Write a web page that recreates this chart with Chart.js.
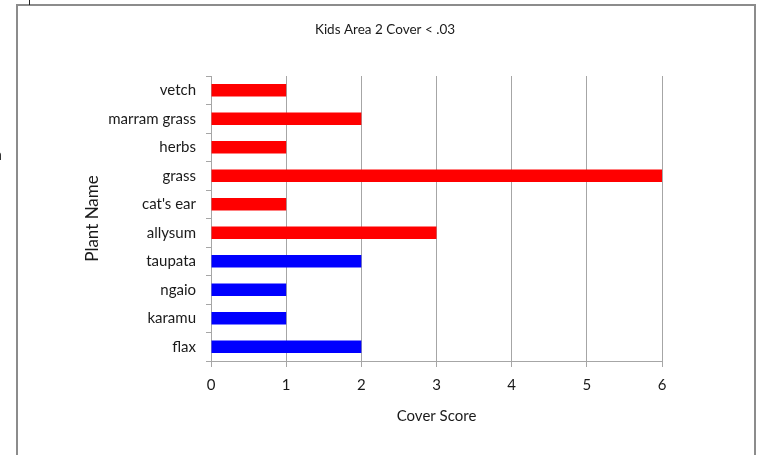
<!DOCTYPE html>
<html>
<head>
<meta charset="utf-8">
<script src="https://cdn.jsdelivr.net/npm/chart.js@4.4.1/dist/chart.umd.min.js"></script>
<style>
  html, body { margin: 0; padding: 0; background: #fff; }
  #wrap { position: absolute; left: 0; top: 0; width: 759px; height: 455px; }
</style>
</head>
<body>
<div id="wrap"><canvas id="coverChart" width="759" height="455"></canvas></div>
<script>
// plants top to bottom as shown
const plantNames = ['vetch', 'marram grass', 'herbs', 'grass', "cat's ear", 'allysum', 'taupata', 'ngaio', 'karamu', 'flax'];
const redScores = [1, 2, 1, 6, 1, 3, null, null, null, null];
const blueScores = [null, null, null, null, null, null, 2, 1, 1, 2];
const xTicks = [0, 1, 2, 3, 4, 5, 6];
const chartTitle = 'Kids Area 2 Cover < .03';

const fontFamily = 'Lato, "Open Sans", sans-serif';

// outer frame + title, like the spreadsheet chart box
const framePlugin = {
    id: 'frame',
    afterDraw(chart) {
        const ctx = chart.ctx;
        ctx.save();
        ctx.strokeStyle = '#8c8c8c';
        ctx.lineWidth = 2;
        ctx.beginPath();
        ctx.moveTo(17, 460);
        ctx.lineTo(17, 5);
        ctx.lineTo(755, 5);
        ctx.lineTo(755, 460);
        ctx.stroke();
        ctx.strokeStyle = '#222';
        ctx.lineWidth = 1;
        ctx.beginPath();
        ctx.moveTo(29.5, 0);
        ctx.lineTo(29.5, 5);
        ctx.stroke();
        ctx.fillStyle = '#1a1a1a';
        ctx.textBaseline = 'middle';
        // cut-off text from the page behind the chart
        ctx.font = '16px ' + fontFamily;
        ctx.textAlign = 'left';
        ctx.fillText('a', -6, 155);
        ctx.fillText('d', -8, 236);
        ctx.font = '13.5px ' + fontFamily;
        ctx.textAlign = 'center';
        ctx.fillText(chartTitle, 385, 30);
        ctx.restore();
    }
};

const ctx = document.getElementById('coverChart').getContext('2d');
new Chart(ctx, {
    type: 'bar',
    data: {
        labels: plantNames,
        datasets: [{
            data: redScores,
            backgroundColor: '#ff0000',
            categoryPercentage: 1,
            barPercentage: 0.43
        }, {
            data: blueScores,
            backgroundColor: '#0000ff',
            categoryPercentage: 1,
            barPercentage: 0.43
        }]
    },
    options: {
        indexAxis: 'y',
        responsive: false,
        animation: false,
        grouped: false,
        layout: { padding: { left: 78, right: 97, top: 76, bottom: 26 } },
        plugins: {
            legend: { display: false },
            tooltip: { enabled: false }
        },
        scales: {
            x: {
                min: 0,
                max: 6,
                afterBuildTicks: function (scale) {
                    scale.ticks = xTicks.map(v => ({ value: v }));
                },
                afterFit: function (scale) { scale.height = 68; },
                grid: { color: '#a6a6a6', lineWidth: 1, tickLength: 6 },
                border: { color: '#a6a6a6' },
                ticks: { color: '#1a1a1a', font: { family: fontFamily, size: 15 }, padding: 9 },
                title: {
                    display: true,
                    text: 'Cover Score',
                    color: '#1a1a1a',
                    font: { family: fontFamily, size: 15 }
                }
            },
            y: {
                afterFit: function (scale) { scale.width = 133; },
                grid: { drawOnChartArea: false, color: '#a6a6a6', tickLength: 5 },
                border: { color: '#a6a6a6' },
                ticks: { color: '#1a1a1a', font: { family: fontFamily, size: 15 }, padding: 10 },
                title: {
                    display: true,
                    text: 'Plant Name',
                    color: '#1a1a1a',
                    font: { family: fontFamily, size: 17 }
                }
            }
        }
    },
    plugins: [framePlugin]
});
</script>
</body>
</html>
